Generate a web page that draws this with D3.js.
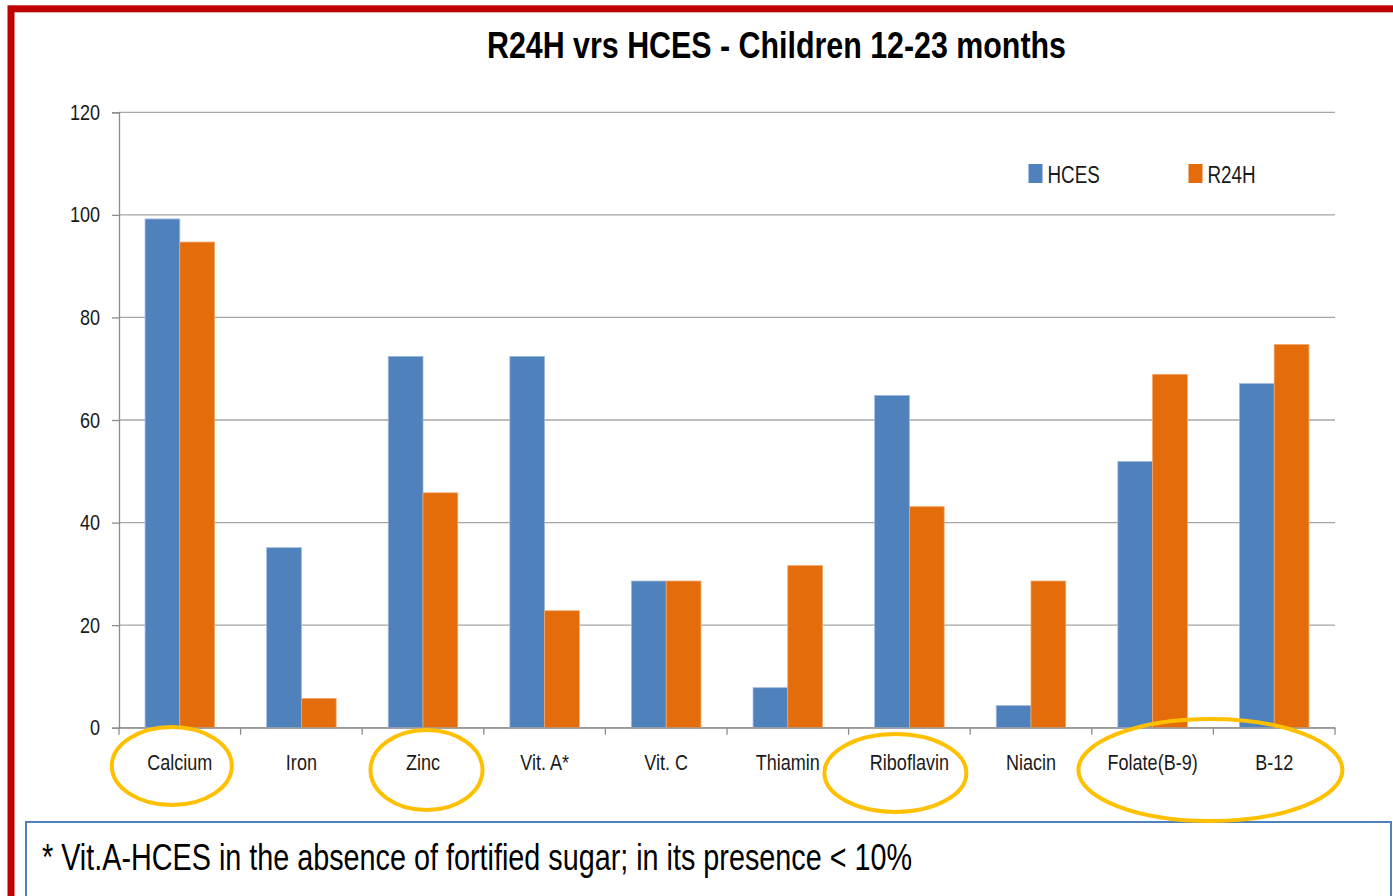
<!DOCTYPE html>
<html>
<head>
<meta charset="utf-8">
<script src="https://cdn.jsdelivr.net/npm/d3@7"></script>
<style>
  html, body { margin: 0; padding: 0; background: #ffffff; }
  svg { display: block; }
  text { font-family: "Liberation Sans", Arial, sans-serif; fill: #1a1a1a; }
</style>
</head>
<body>
<svg id="chart" width="1393" height="896"></svg>
<script>
// ---- data ----
const categories = ["Calcium", "Iron", "Zinc", "Vit. A*", "Vit. C", "Thiamin", "Riboflavin", "Niacin", "Folate(B-9)", "B-12"];
const seriesNames = ["HCES", "R24H"];
const hcesValues = [99.2, 35.1, 72.4, 72.4, 28.6, 7.8, 64.8, 4.3, 51.9, 67.1];
const r24hValues = [94.7, 5.7, 45.8, 22.8, 28.6, 31.6, 43.1, 28.6, 68.9, 74.7];
const yTicks = [0, 20, 40, 60, 80, 100, 120];
const titleText = "R24H vrs HCES - Children 12-23 months";
const footnoteText = "* Vit.A-HCES in the absence of fortified sugar; in its presence < 10%";
const highlighted = [["Calcium"], ["Zinc"], ["Riboflavin"], ["Folate(B-9)", "B-12"]];

// ---- drawing ----
const svg = d3.select("#chart");
const colors = { HCES: "#4f81bd", R24H: "#e46c0a" };
const strokeColors = { HCES: "#9fb9dc", R24H: "#f3a468" };
const SX = 0.82; // horizontal squeeze to mimic the narrow slide font

const plot = { left: 119, right: 1335, top: 112.3, bottom: 727.7 };

const x = d3.scaleBand().domain(categories).range([plot.left, plot.right]);
const bw = x.bandwidth();
const xs = d3.scaleBand().domain(seriesNames).range([bw * 1.5 / 7, bw * 5.5 / 7]);
const y = d3.scaleLinear().domain([0, 120]).range([plot.bottom, plot.top]);

// red frame
svg.append("rect")
  .attr("x", 11).attr("y", 8.8)
  .attr("width", 1500).attr("height", 1000)
  .attr("fill", "none").attr("stroke", "#c00000").attr("stroke-width", 7);

// title
svg.append("text")
  .attr("x", 487).attr("y", 58)
  .attr("textLength", 579).attr("lengthAdjust", "spacingAndGlyphs")
  .style("font-size", "36px").style("font-weight", "bold").style("fill", "#000")
  .text(titleText);

// gridlines
svg.append("g").selectAll("line").data(yTicks).join("line")
  .attr("x1", plot.left).attr("x2", plot.right)
  .attr("y1", d => y(d)).attr("y2", d => y(d))
  .attr("stroke", "#a6a6a6").attr("stroke-width", 1.3);

// y axis
const yAxis = svg.append("g").attr("transform", `translate(${plot.left},0)`)
  .call(d3.axisLeft(y).tickValues(yTicks).tickSize(7).tickPadding(12).tickFormat(d3.format("d")));
yAxis.select(".domain").attr("stroke", "#8c8c8c").attr("stroke-width", 1.3);
yAxis.selectAll(".tick line").attr("stroke", "#8c8c8c").attr("stroke-width", 1.3);
yAxis.selectAll(".tick text")
  .attr("font-family", null).attr("font-size", null)
  .style("font-size", "22px").style("fill", "#1a1a1a")
  .attr("x", -19 / SX).attr("transform", `scale(${SX},1)`);

// bars
const rows = categories.map((c, i) => ({ cat: c, vals: [
  { s: "HCES", v: hcesValues[i] }, { s: "R24H", v: r24hValues[i] } ] }));
const groups = svg.append("g").selectAll("g").data(rows).join("g")
  .attr("transform", d => `translate(${x(d.cat)},0)`);
groups.selectAll("rect").data(d => d.vals).join("rect")
  .attr("x", d => xs(d.s))
  .attr("width", xs.bandwidth())
  .attr("y", d => y(d.v))
  .attr("height", d => y(0) - y(d.v))
  .attr("fill", d => colors[d.s])
  .attr("stroke", d => strokeColors[d.s])
  .attr("stroke-width", 0.8);

// x axis
const xAxis = svg.append("g").attr("transform", `translate(0,${plot.bottom})`)
  .call(d3.axisBottom(x).tickSize(0).tickPadding(27));
xAxis.select(".domain").attr("stroke", "#8c8c8c").attr("stroke-width", 1.3);
xAxis.selectAll(".tick text")
  .attr("font-family", null).attr("font-size", null)
  .style("font-size", "22px").style("fill", "#1a1a1a")
  .attr("transform", `scale(${SX},1)`);
// boundary ticks
const bounds = categories.map(c => x(c)).concat([x(categories[categories.length - 1]) + bw]);
svg.append("g").selectAll("line").data(bounds).join("line")
  .attr("x1", d => d).attr("x2", d => d)
  .attr("y1", plot.bottom).attr("y2", plot.bottom + 7)
  .attr("stroke", "#8c8c8c").attr("stroke-width", 1.3);

// legend
const legendPos = [{ s: "HCES", x: 1028.5 }, { s: "R24H", x: 1188.5 }];
const lg = svg.append("g").selectAll("g").data(legendPos).join("g")
  .attr("transform", d => `translate(${d.x},164)`);
lg.append("rect").attr("width", 14).attr("height", 19).attr("fill", d => colors[d.s]);
lg.append("text").attr("x", 19 / SX).attr("y", 19.3)
  .attr("transform", `scale(${SX},1)`)
  .style("font-size", "23px").text(d => d.s);

// footnote box
svg.append("rect")
  .attr("x", 26).attr("y", 822).attr("width", 1365).attr("height", 120)
  .attr("fill", "#ffffff").attr("stroke", "#4f81bd").attr("stroke-width", 2);
svg.append("text")
  .attr("x", 42).attr("y", 870)
  .attr("textLength", 870).attr("lengthAdjust", "spacingAndGlyphs")
  .style("font-size", "36px").style("fill", "#000")
  .text(footnoteText);

// highlight ellipses (annotations)
const ellShape = [
  { dx: -8, cy: 766, rx: 60, ry: 39 },
  { dx: 3.5, cy: 770, rx: 56, ry: 40 },
  { dx: -14, cy: 773, rx: 71, ry: 39 },
  { dx: -3, cy: 770, rx: 132, ry: 51 }
];
svg.append("g").selectAll("ellipse").data(highlighted).join("ellipse")
  .attr("cx", (d, i) => d3.mean(d, c => x(c) + bw / 2) + ellShape[i].dx)
  .attr("cy", (d, i) => ellShape[i].cy)
  .attr("rx", (d, i) => ellShape[i].rx)
  .attr("ry", (d, i) => ellShape[i].ry)
  .attr("fill", "none").attr("stroke", "#ffc000").attr("stroke-width", 4);
</script>
</body>
</html>
